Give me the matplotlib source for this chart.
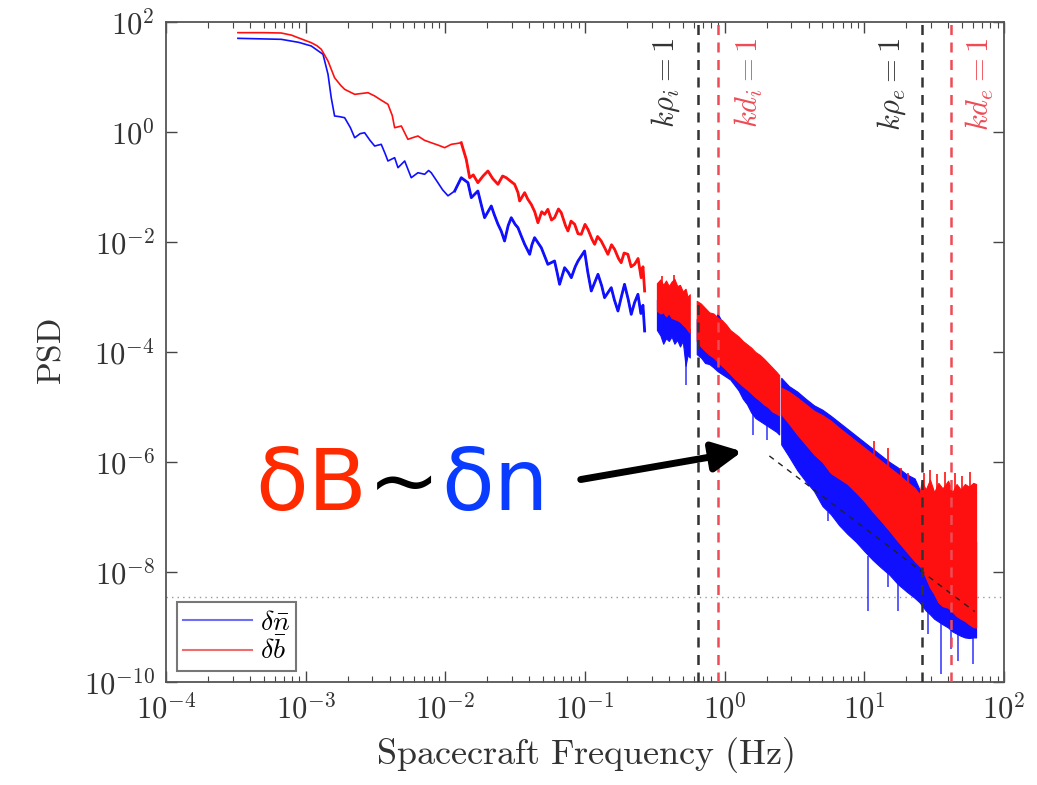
import matplotlib
matplotlib.use("Agg")
import matplotlib.pyplot as plt
import numpy as np
from matplotlib.ticker import FixedLocator, NullLocator

plt.rcParams["mathtext.fontset"] = "cm"
plt.rcParams["font.family"] = ["DejaVu Sans"]

# ---- data (all values are log10 of Hz / PSD) ----
# low-frequency part, single traces
red_lo_logf = [-3.485, -3.30, -3.175, -3.10, -3.055, -2.96, -2.92, -2.888, -2.84, -2.793,
               -2.75, -2.721, -2.649, -2.60, -2.554, -2.506, -2.46, -2.411, -2.38, -2.363,
               -2.315, -2.268, -2.23, -2.196, -2.15, -2.101, -2.05, -2.005, -1.957, -1.92,
               -1.886, -1.85, -1.826, -1.80, -1.767, -1.73, -1.695, -1.66, -1.623, -1.59,
               -1.564, -1.53, -1.504, -1.48, -1.468, -1.432, -1.41, -1.385, -1.36, -1.337,
               -1.31, -1.289, -1.266, -1.24, -1.218, -1.19, -1.17, -1.14, -1.122, -1.10,
               -1.074, -1.05, -1.027, -1.00, -0.979, -0.95, -0.931, -0.91, -0.884, -0.86,
               -0.836, -0.81, -0.788, -0.76, -0.741, -0.72, -0.693, -0.67, -0.645, -0.62,
               -0.598, -0.585, -0.573]
red_lo_logpsd = [1.806, 1.806, 1.80, 1.76, 1.715, 1.624, 1.57, 1.503, 1.29, 0.987,
                 0.85, 0.776, 0.685, 0.70, 0.715, 0.655, 0.58, 0.504, 0.30, 0.078,
                 0.109, -0.133, -0.10, -0.073, -0.15, -0.195, -0.24, -0.285, -0.224, -0.21,
                 -0.195, -0.50, -0.831, -0.78, -0.921, -0.80, -0.709, -0.85, -0.951, -0.80,
                 -0.831, -0.90, -0.951, -1.10, -1.255, -1.103, -1.22, -1.315, -1.45, -1.649,
                 -1.45, -1.497, -1.406, -1.60, -1.558, -1.40, -1.467, -1.70, -1.80, -1.62,
                 -1.678, -1.85, -1.86, -1.68, -1.769, -1.95, -2.042, -1.90, -1.982, -2.10,
                 -2.224, -2.05, -2.133, -2.30, -2.376, -2.20, -2.224, -2.45, -2.406, -2.30,
                 -2.649, -2.45, -2.891]

blue_lo_logf = [-3.485, -3.175, -3.05, -2.96, -2.876, -2.84, -2.817, -2.793, -2.76, -2.721,
                -2.68, -2.649, -2.61, -2.578, -2.54, -2.506, -2.459, -2.43, -2.411, -2.363,
                -2.339, -2.291, -2.244, -2.196, -2.148, -2.12, -2.101, -2.053, -2.02, -1.981,
                -1.933, -1.886, -1.838, -1.814, -1.767, -1.74, -1.719, -1.671, -1.65, -1.623,
                -1.60, -1.576, -1.55, -1.528, -1.50, -1.48, -1.455, -1.432, -1.396, -1.38,
                -1.361, -1.313, -1.29, -1.266, -1.218, -1.20, -1.182, -1.146, -1.12, -1.098,
                -1.07, -1.05, -1.003, -0.98, -0.955, -0.907, -0.88, -0.86, -0.812, -0.79,
                -0.764, -0.74, -0.717, -0.69, -0.669, -0.645, -0.621, -0.60, -0.585, -0.573]
blue_lo_logpsd = [1.703, 1.685, 1.63, 1.564, 1.413, 1.049, 0.624, 0.291, 0.28, 0.260,
                  0.08, -0.104, -0.03, -0.013, -0.15, -0.255, -0.224, -0.40, -0.527, -0.467,
                  -0.649, -0.527, -0.831, -0.74, -0.769, -0.70, -0.74, -0.922, -1.05, -1.16,
                  -1.073, -0.831, -0.921, -1.194, -1.073, -1.35, -1.558, -1.345, -1.50, -1.678,
                  -1.80, -1.982, -1.70, -1.558, -1.68, -1.74, -1.90, -2.042, -2.224, -2.05,
                  -1.921, -2.103, -2.25, -2.406, -2.345, -2.55, -2.769, -2.467, -2.55, -2.649,
                  -2.45, -2.345, -2.164, -2.55, -2.891, -2.587, -2.80, -3.012, -2.830, -3.05,
                  -3.255, -3.00, -2.769, -3.05, -3.315, -3.10, -2.951, -3.30, -3.15, -3.618]

# high-frequency part: dense traces read as upper / lower envelopes, three segments
seg_a_logf = [-0.485, -0.46, -0.44, -0.42, -0.40, -0.38, -0.36, -0.34, -0.32, -0.30,
              -0.28, -0.265, -0.25]
seg_a_red_top = [-2.75, -2.68, -2.78, -2.70, -2.80, -2.72, -2.67, -2.80, -2.78, -2.90,
                 -2.85, -3.00, -2.95]
seg_a_red_bot = [-3.25, -3.30, -3.28, -3.35, -3.30, -3.38, -3.40, -3.42, -3.45, -3.50,
                 -3.55, -3.60, -3.65]
seg_a_blue_top = [-3.05, -3.20, -3.25, -3.30, -3.25, -3.35, -3.30, -3.40, -3.45, -3.50,
                  -3.50, -3.55, -3.58]
seg_a_blue_bot = [-3.60, -3.70, -3.85, -3.75, -3.80, -3.72, -3.85, -3.78, -3.90, -3.80,
                  -4.25, -4.05, -4.10]

seg_b_logf = [-0.20, -0.17, -0.14, -0.11, -0.08, -0.05, -0.02, 0.01, 0.04, 0.07, 0.10,
              0.13, 0.16, 0.19, 0.22, 0.25, 0.28, 0.31, 0.34, 0.37, 0.39]
seg_b_red_top = [-3.07, -3.12, -3.20, -3.28, -3.30, -3.38, -3.42, -3.50, -3.60, -3.66, -3.72,
                 -3.80, -3.86, -3.92, -4.00, -4.05, -4.12, -4.20, -4.28, -4.36, -4.42]
seg_b_red_bot = [-3.80, -3.90, -3.98, -4.05, -4.10, -4.18, -4.25, -4.32, -4.40, -4.48, -4.55,
                 -4.62, -4.68, -4.75, -4.82, -4.88, -4.95, -5.00, -5.08, -5.12, -5.15]
seg_b_blue_top = [-3.40, -3.45, -3.50, -3.55, -3.45, -3.30, -3.45, -3.55, -3.70, -3.75, -3.80,
                  -3.95, -3.90, -4.00, -4.10, -4.15, -4.20, -4.30, -4.40, -4.45, -4.50]
seg_b_blue_bot = [-4.04, -4.10, -4.20, -4.22, -4.28, -4.35, -4.40, -4.45, -4.50, -4.60, -4.70,
                  -4.85, -4.95, -5.10, -5.20, -5.25, -5.30, -5.35, -5.40, -5.45, -5.50]

seg_c_logf = [0.405, 0.46, 0.52, 0.58, 0.64, 0.70, 0.76, 0.82, 0.88, 0.94, 1.00, 1.06, 1.12,
              1.18, 1.24, 1.30, 1.36, 1.395, 1.41, 1.44, 1.47, 1.50, 1.53, 1.56, 1.60, 1.63,
              1.66, 1.69, 1.72, 1.75, 1.78, 1.80]
seg_c_red_top = [-4.65, -4.72, -4.83, -4.95, -5.07, -5.15, -5.25, -5.38, -5.50, -5.62, -5.74,
                 -5.86, -5.98, -6.10, -6.22, -6.35, -6.47, -6.59, -6.35, -6.50, -6.32, -6.55,
                 -6.38, -6.48, -6.34, -6.55, -6.40, -6.50, -6.40, -6.45, -6.38, -6.40]
seg_c_red_bot = [-5.13, -5.30, -5.50, -5.68, -5.86, -6.00, -6.20, -6.30, -6.40, -6.55, -6.71,
                 -6.90, -7.07, -7.25, -7.44, -7.62, -7.80, -7.89, -7.92, -8.10, -8.28, -8.40,
                 -8.55, -8.62, -8.65, -8.72, -8.80, -8.85, -8.89, -8.95, -9.00, -9.01]
seg_c_blue_top = [-4.47, -4.62, -4.72, -4.85, -4.97, -5.05, -5.16, -5.28, -5.40, -5.52, -5.64,
                  -5.76, -5.88, -6.00, -6.10, -6.22, -6.30, -6.50, -6.60, -6.70, -6.80, -6.90,
                  -7.00, -7.05, -7.10, -7.15, -7.20, -7.25, -7.30, -7.35, -7.40, -7.45]
seg_c_blue_bot = [-5.68, -5.90, -6.15, -6.35, -6.53, -6.80, -6.95, -7.15, -7.31, -7.45, -7.62,
                  -7.78, -7.92, -8.05, -8.22, -8.35, -8.47, -8.55, -8.60, -8.70, -8.77, -8.85,
                  -8.90, -8.95, -9.01, -9.08, -9.12, -9.16, -9.19, -9.20, -9.19, -9.19]

# isolated spikes sticking out of the dense traces
red_spike_logf = [-0.45, -0.36, 1.072, 1.168, 1.264, 1.31, 1.43, 1.47, 1.52, 1.58, 1.65, 1.70, 1.76]
red_spike_hi = [-2.62, -2.60, -5.62, -5.74, -6.10, -6.20, -6.20, -6.15, -6.22, -6.18, -6.20, -6.25, -6.18]
red_spike_lo = [-2.90, -2.90, -6.20, -6.30, -6.50, -6.60, -6.60, -6.60, -6.60, -6.60, -6.60, -6.60, -6.60]
blue_spike_logf = [-0.275, 0.20, 0.30, 0.74, 1.025, 1.17, 1.24, 1.455, 1.55, 1.62, 1.67, 1.777]
blue_spike_hi = [-3.90, -5.00, -5.30, -6.90, -7.70, -8.00, -8.20, -8.70, -8.90, -9.00, -9.10, -9.20]
blue_spike_lo = [-4.60, -5.50, -5.60, -7.07, -8.71, -8.28, -8.71, -9.13, -9.86, -9.40, -9.62, -9.68]

# reference lines
fit_logf = [0.32, 1.79]
fit_logpsd = [-5.89, -8.72]
noise_floor = 3.5e-9
scale_freqs = [0.64, 0.89, 26.0, 41.6]
scale_labels = [r"$k\rho_i = 1$", r"$kd_i = 1$", r"$k\rho_e = 1$", r"$kd_e = 1$"]
scale_colors = ["#333333", "#ee4b55", "#333333", "#ee4b55"]
scale_offsets = [-32, 31, -31, 29]

x_ticks = [1e-4, 1e-3, 1e-2, 1e-1, 1e0, 1e1, 1e2]
x_ticklabels = [r"$10^{-4}$", r"$10^{-3}$", r"$10^{-2}$", r"$10^{-1}$",
                r"$10^{0}$", r"$10^{1}$", r"$10^{2}$"]
y_ticks = [1e2, 1e0, 1e-2, 1e-4, 1e-6, 1e-8, 1e-10]
y_ticklabels = [r"$10^{2}$", r"$10^{0}$", r"$10^{-2}$", r"$10^{-4}$",
                r"$10^{-6}$", r"$10^{-8}$", r"$10^{-10}$"]

RED = "#ff1010"
BLUE = "#1010ff"


def p10(v):
    return np.power(10.0, np.asarray(v, dtype=float))


fig = plt.figure(figsize=(10.37, 7.85), dpi=100)
W, H = 1037, 785
ax = fig.add_axes([166 / W, 1 - 682 / H, (1004 - 166) / W, (682 - 22) / H])
ax.set_xscale("log")
ax.set_yscale("log")

# low-frequency traces; the noisier upper end is drawn thicker
noisy = 30
ax.plot(p10(blue_lo_logf), p10(blue_lo_logpsd), color=BLUE, lw=1.2, zorder=3)
ax.plot(p10(blue_lo_logf[noisy:]), p10(blue_lo_logpsd[noisy:]), color=BLUE, lw=2.0, zorder=3)
ax.plot(p10(red_lo_logf), p10(red_lo_logpsd), color=RED, lw=1.2, zorder=3)
ax.plot(p10(red_lo_logf[noisy:]), p10(red_lo_logpsd[noisy:]), color=RED, lw=2.0, zorder=3)

# dense high-frequency traces: blue below, red drawn over it
segments = [
    (seg_a_logf, seg_a_red_top, seg_a_red_bot, seg_a_blue_top, seg_a_blue_bot),
    (seg_b_logf, seg_b_red_top, seg_b_red_bot, seg_b_blue_top, seg_b_blue_bot),
    (seg_c_logf, seg_c_red_top, seg_c_red_bot, seg_c_blue_top, seg_c_blue_bot),
]
for lf, rt, rb, bt, bb in segments:
    ax.fill_between(p10(lf), p10(bb), p10(bt), color=BLUE, lw=0.8, zorder=3)
for lf, rt, rb, bt, bb in segments:
    ax.fill_between(p10(lf), p10(rb), p10(rt), color=RED, lw=0.8, zorder=4)

ax.vlines(p10(blue_spike_logf), p10(blue_spike_lo), p10(blue_spike_hi),
          color=BLUE, lw=1.2, alpha=0.8, zorder=3)
ax.vlines(p10(red_spike_logf), p10(red_spike_lo), p10(red_spike_hi),
          color=RED, lw=1.2, zorder=4)

# fitted slope and noise floor
ax.plot(p10(fit_logf), p10(fit_logpsd), color="#222222", lw=1.0,
        linestyle=(0, (4, 4)), zorder=5)
ax.axhline(noise_floor, color="#999999", lw=1.0, linestyle=(0, (1, 3)), zorder=1)

# characteristic scales
for f, lab, col, off in zip(scale_freqs, scale_labels, scale_colors, scale_offsets):
    ax.axvline(f, color=col, lw=1.8, linestyle=(0, (4, 3)), zorder=6)
    ax.annotate(lab, xy=(f, 1), xycoords=("data", "axes fraction"),
                xytext=(off, -16), textcoords="offset pixels",
                rotation=90, ha="center", va="top", color=col, fontsize=22)

ax.set_xlim(1e-4, 1e2)
ax.set_ylim(1e-10, 1e2)
ax.xaxis.set_major_locator(FixedLocator(x_ticks))
ax.set_xticklabels(x_ticklabels)
ax.yaxis.set_major_locator(FixedLocator(y_ticks))
ax.set_yticklabels(y_ticklabels)
ax.yaxis.set_minor_locator(NullLocator())
ax.tick_params(which="both", direction="in", top=True, right=True,
               labelsize=22, colors="#444444", labelcolor="#333333")
ax.tick_params(which="major", length=8, width=1.0, pad=8)
ax.tick_params(which="minor", length=4, width=0.8)
for s in ax.spines.values():
    s.set_color("#555555")
    s.set_linewidth(1.3)

ax.set_xlabel(r"$\mathrm{Spacecraft\ Frequency\ (Hz)}$", fontsize=26,
              color="#333333", labelpad=8)
ax.set_ylabel(r"$\mathrm{PSD}$", fontsize=24, color="#333333", labelpad=12)

leg_handles = [plt.Line2D([], [], color="#6f6ff5", lw=1.5),
               plt.Line2D([], [], color="#f06d6d", lw=1.5)]
leg = ax.legend(leg_handles, [r"$\delta\bar{n}$", r"$\delta\bar{b}$"],
                loc="lower left", fontsize=20, frameon=True, fancybox=False,
                handlelength=2.5, borderaxespad=0.4, borderpad=0.2,
                labelspacing=0.05, handletextpad=0.3)
leg.get_frame().set_edgecolor("#555555")
leg.get_frame().set_linewidth(1.5)

# big annotation with arrow (three abutting pieces, one colour each)
fig.text(255 / W, 1 - 510 / H, "\u03b4B", color="#ff2a00", fontsize=62,
         ha="left", va="baseline")
fig.text(368 / W, 1 - 510 / H, "~", color="black", fontsize=62,
         ha="left", va="baseline")
fig.text(441 / W, 1 - 510 / H, "\u03b4n", color="#0a3cff", fontsize=62,
         ha="left", va="baseline")
fig.add_artist(matplotlib.patches.FancyArrowPatch(
    (578 / W, 1 - 480 / H), (745 / W, 1 - 451 / H), transform=fig.transFigure,
    arrowstyle="-|>", mutation_scale=44, lw=5, color="black"))

fig.savefig("out.png", dpi=100)
